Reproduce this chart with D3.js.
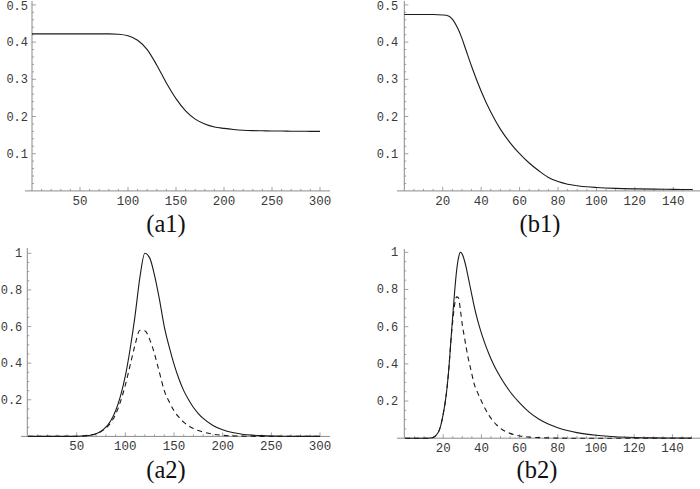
<!DOCTYPE html>
<html>
<head>
<meta charset="utf-8">
<script src="https://cdn.jsdelivr.net/npm/d3@7"></script>
<style>
html,body{margin:0;padding:0;background:#fff;}
svg{display:block;}
</style>
</head>
<body>
<svg id="chart" width="700" height="489"></svg>
<script>
// ---------- DATA ----------
// Panel (a1)
const a1X = [0,10,20,30,40,50,60,70,80,90,100,110,120,130,140,150,160,170,180,190,200,210,220,230,240,250,260,270,280,290,300];
const a1Y = [0.422,0.422,0.422,0.422,0.422,0.422,0.422,0.422,0.422,0.421,0.417,0.405,0.38,0.338,0.29,0.248,0.215,0.193,0.18,0.172,0.168,0.165,0.163,0.162,0.1615,0.161,0.161,0.1605,0.1605,0.160,0.160];
// Panel (b1)
const b1X = [0,5,10,15,20,22,25,28,30,32,35,40,45,50,55,60,65,70,75,80,85,90,95,100,110,120,130,140,150];
const b1Y = [0.474,0.474,0.474,0.474,0.473,0.472,0.462,0.435,0.41,0.38,0.335,0.268,0.212,0.166,0.13,0.10,0.075,0.054,0.036,0.025,0.018,0.014,0.011,0.0092,0.0068,0.0055,0.0047,0.0041,0.0037];
// Panel (a2) solid and dashed
const a2X = [0,10,20,30,40,50,55,60,65,70,75,80,85,90,95,100,105,110,115,120,125,130,135,140,145,150,155,160,165,170,175,180,190,200,210,220,230,240,250,260,270,280,290,300];
const a2Solid = [0,0,0,0,0,0.001,0.002,0.004,0.008,0.015,0.028,0.05,0.085,0.14,0.22,0.33,0.48,0.66,0.87,1.0,0.975,0.88,0.75,0.6,0.49,0.395,0.315,0.25,0.2,0.158,0.125,0.098,0.06,0.036,0.021,0.012,0.007,0.004,0.002,0.001,0.0005,0,0,0];
const a2Dashed = [0,0,0,0,0,0.001,0.002,0.004,0.008,0.014,0.026,0.045,0.075,0.12,0.19,0.28,0.39,0.50,0.58,0.577,0.53,0.45,0.35,0.25,0.19,0.14,0.105,0.078,0.058,0.043,0.032,0.024,0.012,0.006,0.003,0.0015,0.0007,0,0,0,0,0,0,0];
// Panel (b2) solid and dashed
const b2X = [0,5,10,12,14,15,16,17,18,19,20,21,22,23,24,25,26,27,28,29,30,31,32,33,34,35,36,38,40,42,44,46,48,50,55,60,65,70,75,80,85,90,95,100,110,120,130,140,150];
const b2Solid = [0,0,0,0,0.002,0.005,0.012,0.025,0.045,0.08,0.13,0.19,0.27,0.38,0.52,0.66,0.79,0.90,0.97,1.0,0.99,0.96,0.92,0.87,0.82,0.77,0.72,0.635,0.565,0.505,0.452,0.405,0.364,0.328,0.25,0.19,0.14,0.103,0.076,0.056,0.041,0.03,0.022,0.016,0.008,0.004,0.002,0.001,0.0005];
const b2Dashed = [0,0,0,0,0.002,0.005,0.012,0.025,0.045,0.08,0.13,0.19,0.27,0.38,0.52,0.63,0.72,0.76,0.755,0.69,0.61,0.55,0.49,0.435,0.39,0.345,0.30,0.245,0.20,0.158,0.123,0.094,0.071,0.053,0.026,0.012,0.006,0.003,0.0015,0.0006,0,0,0,0,0,0,0,0,0];

// Tick labels
const aXTicks = [50,100,150,200,250,300];
const bXTicks = [20,40,60,80,100,120,140];
const topYTicks = [0.1,0.2,0.3,0.4,0.5];
const botYTicks = [0.2,0.4,0.6,0.8,1];
const captions = ["(a1)","(b1)","(a2)","(b2)"];

// ---------- LAYOUT ----------
const svg = d3.select("#chart");
const panels = [
  {cap:captions[0], xd:[0,300], xr:[32,320], yd:[0,0.5], yr:[190.9,4.9], yAxisX:32, xAxisL:25, xAxisR:330, yTop:1, labGap:4,
   xt:aXTicks, xMinor:10, yt:topYTicks, yMinor:0.02, ymax:0.5, xmax:300,
   series:[{x:a1X,y:a1Y,dash:null}], capX:166, capY:232},
  {cap:captions[1], xd:[0,150], xr:[404.3,692.5], yd:[0,0.5], yr:[190.9,4.9], yAxisX:404.3, xAxisL:397, xAxisR:700, yTop:1, labGap:6,
   xt:bXTicks, xMinor:5, yt:topYTicks, yMinor:0.02, ymax:0.5, xmax:150,
   series:[{x:b1X,y:b1Y,dash:null}], capX:540, capY:232},
  {cap:captions[2], xd:[0,300], xr:[28,320], yd:[0,1], yr:[436.4,253.3], yAxisX:27.3, xAxisL:21, xAxisR:330, yTop:248, labGap:5,
   xt:aXTicks, xMinor:10, yt:botYTicks, yMinor:0.05, ymax:1, xmax:300,
   series:[{x:a2X,y:a2Solid,dash:null},{x:a2X,y:a2Dashed,dash:"5,4"}], capX:166, capY:478},
  {cap:captions[3], xd:[0,150], xr:[405,691.5], yd:[0,1], yr:[438.2,252.3], yAxisX:404.3, xAxisL:397, xAxisR:700, yTop:249, labGap:6,
   xt:bXTicks, xMinor:5, yt:botYTicks, yMinor:0.05, ymax:1, xmax:150,
   series:[{x:b2X,y:b2Solid,dash:null},{x:b2X,y:b2Dashed,dash:"5,4"}], capX:537, capY:478}
];

const axisColor = "#8a8a8a";
const textColor = "#3a3a3a";
const monoFont = "'Liberation Mono', 'Courier New', monospace";

panels.forEach(p => {
  const x = d3.scaleLinear().domain(p.xd).range(p.xr);
  const y = d3.scaleLinear().domain(p.yd).range(p.yr);
  const g = svg.append("g");
  const y0 = y(0);

  // axis lines
  g.append("line").attr("x1",p.xAxisL).attr("x2",p.xAxisR).attr("y1",y0).attr("y2",y0)
    .attr("stroke",axisColor).attr("stroke-width",1);
  g.append("line").attr("x1",p.yAxisX).attr("x2",p.yAxisX).attr("y1",p.yTop).attr("y2",y0)
    .attr("stroke",axisColor).attr("stroke-width",1);

  // x minor + major ticks
  const xMinorVals = d3.range(p.xMinor, p.xmax + 0.001, p.xMinor);
  g.selectAll(null).data(xMinorVals).enter().append("line")
    .attr("x1",d=>x(d)).attr("x2",d=>x(d))
    .attr("y1",y0).attr("y2",d=> p.xt.some(t=>Math.abs(t-d)<1e-6) ? y0-4 : y0-2)
    .attr("stroke",axisColor).attr("stroke-width",0.8);
  // y minor + major ticks
  const yMinorVals = d3.range(p.yMinor, p.ymax + 1e-6, p.yMinor);
  g.selectAll(null).data(yMinorVals).enter().append("line")
    .attr("y1",d=>y(d)).attr("y2",d=>y(d))
    .attr("x1",p.yAxisX).attr("x2",d=> p.yt.some(t=>Math.abs(t-d)<1e-6) ? p.yAxisX+4 : p.yAxisX+2)
    .attr("stroke",axisColor).attr("stroke-width",0.8);

  // tick labels
  g.selectAll(null).data(p.xt).enter().append("text")
    .attr("x",d=>x(d)).attr("y",y0+14)
    .attr("text-anchor","middle")
    .attr("font-family",monoFont)
    .attr("font-size",12.5).attr("fill",textColor)
    .text(d=>d);
  g.selectAll(null).data(p.yt).enter().append("text")
    .attr("x",p.yAxisX-p.labGap).attr("y",d=>Math.max(y(d)+4, 10))
    .attr("text-anchor","end")
    .attr("font-family",monoFont)
    .attr("font-size",12).attr("fill",textColor)
    .text(d=> d===1 ? "1" : d3.format(".1f")(d));

  // curves
  p.series.forEach(s => {
    const pts = s.x.map((v,i)=>[v,s.y[i]]);
    const line = d3.line().x(d=>x(d[0])).y(d=>y(d[1])).curve(d3.curveMonotoneX);
    g.append("path").attr("d",line(pts)).attr("fill","none")
      .attr("stroke","#1a1a1a").attr("stroke-width",1.1)
      .attr("stroke-dasharray",s.dash);
  });

  // caption
  g.append("text").attr("x",p.capX).attr("y",p.capY).attr("text-anchor","middle")
    .attr("font-family","'Liberation Serif', 'DejaVu Serif', serif")
    .attr("font-size",24.5).attr("fill","#111").text(p.cap);
});
</script>
</body>
</html>
